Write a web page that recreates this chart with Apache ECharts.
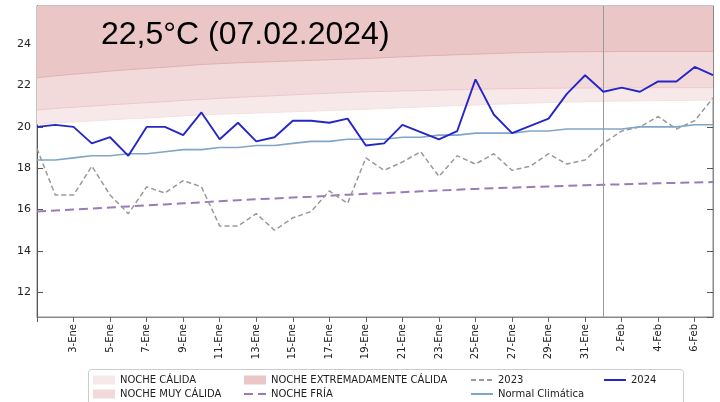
<!DOCTYPE html>
<html>
<head>
<meta charset="utf-8">
<script src="https://cdn.jsdelivr.net/npm/echarts@6/dist/echarts.min.js"></script>
<style>html,body{margin:0;padding:0;background:#fff;}#c{width:720px;height:402px;}</style>
</head>
<body>
<div id="c"></div>
<script>
const categories = ['1-Ene','2-Ene','3-Ene','4-Ene','5-Ene','6-Ene','7-Ene','8-Ene','9-Ene','10-Ene',
  '11-Ene','12-Ene','13-Ene','14-Ene','15-Ene','16-Ene','17-Ene','18-Ene','19-Ene','20-Ene',
  '21-Ene','22-Ene','23-Ene','24-Ene','25-Ene','26-Ene','27-Ene','28-Ene','29-Ene','30-Ene','31-Ene',
  '1-Feb','2-Feb','3-Feb','4-Feb','5-Feb','6-Feb','7-Feb'];
const tmin2024 = [20.0,20.1,20.0,19.2,19.5,18.6,20.0,20.0,19.6,20.7,19.4,20.2,19.3,19.5,20.3,20.3,20.2,20.4,19.1,19.2,
  20.1,19.75,19.4,19.8,22.3,20.6,19.7,20.05,20.4,21.6,22.5,21.7,21.9,21.7,22.2,22.2,22.9,22.5];
const tmin2023 = [18.95,16.7,16.7,18.1,16.7,15.8,17.1,16.8,17.4,17.1,15.2,15.2,15.8,15.0,15.6,15.9,16.9,16.3,18.5,17.9,
  18.3,18.8,17.6,18.6,18.2,18.7,17.9,18.1,18.7,18.2,18.4,19.2,19.8,20.0,20.5,19.9,20.3,21.4];
const normalClimatica = [18.4,18.4,18.5,18.6,18.6,18.7,18.7,18.8,18.9,18.9,19.0,19.0,19.1,19.1,19.2,19.3,19.3,19.4,19.4,19.4,
  19.5,19.5,19.6,19.6,19.7,19.7,19.7,19.8,19.8,19.9,19.9,19.9,19.9,20.0,20.0,20.0,20.1,20.1];
const nocheFria = [15.90,15.95,16.00,16.05,16.10,16.15,16.20,16.25,16.30,16.35,16.40,16.45,16.50,16.53,16.58,16.62,16.67,16.72,16.76,16.80,
  16.84,16.88,16.92,16.96,17.00,17.03,17.06,17.09,17.12,17.15,17.18,17.20,17.22,17.25,17.27,17.29,17.31,17.33];
const umbralCalida = [20.14,20.19,20.24,20.29,20.34,20.39,20.43,20.48,20.53,20.58,20.61,20.64,20.67,20.70,20.73,20.76,20.79,20.82,20.85,20.89,
  20.93,20.96,21.00,21.03,21.06,21.09,21.12,21.15,21.18,21.20,21.22,21.24,21.25,21.26,21.27,21.28,21.29,21.30];
const umbralMuyCalida = [20.82,20.89,20.95,21.01,21.07,21.12,21.17,21.22,21.28,21.33,21.38,21.43,21.47,21.51,21.55,21.59,21.63,21.66,21.70,21.72,
  21.74,21.76,21.78,21.80,21.82,21.84,21.85,21.86,21.87,21.88,21.88,21.89,21.89,21.89,21.90,21.90,21.90,21.90];
const umbralExtrema = [22.38,22.47,22.55,22.62,22.70,22.77,22.83,22.89,22.95,23.02,23.06,23.10,23.13,23.16,23.19,23.22,23.25,23.28,23.31,23.35,
  23.39,23.43,23.46,23.49,23.52,23.55,23.58,23.60,23.62,23.63,23.64,23.64,23.65,23.65,23.65,23.65,23.65,23.65];
const yTicks = [12,14,16,18,20,22,24];
const titleText = '22,5°C (07.02.2024)';
const markerDate = '1-Feb';

const chart = echarts.init(document.getElementById('c'), null, {renderer:'canvas'});
const FONT = 'DejaVu Sans';
const yMin = 10.8, yMax = 25.85;

function band(name, data, fill, edge){
  return {name, type:'line', data, symbol:'none', silent:true, color:fill,
    lineStyle:{color:edge, width:1}, areaStyle:{color:fill, opacity:1, origin:'end'}, z:1};
}
const legendBase = {orient:'vertical', padding:0, itemGap:2, itemWidth:22, itemHeight:9,
  textStyle:{fontFamily:FONT, fontSize:10, color:'#222', lineHeight:12}, selectedMode:false};
const noSym = {opacity:0};

const option = {
  animation:false,
  grid:{left:37, right:7, top:6, height:311, show:true, borderColor:'#888', borderWidth:1},
  xAxis:{type:'category', data:categories, boundaryGap:false,
    axisLine:{lineStyle:{color:'#888'}},
    axisTick:{interval:(i)=>i%2===0, length:5, lineStyle:{color:'#666'}},
    axisLabel:{interval:(i)=>i%2===0 && i>0, rotate:90, fontFamily:FONT, fontSize:10, color:'#222', margin:7},
    splitLine:{show:false}},
  yAxis:[{type:'value', min:yMin, max:yMax, minInterval:2, maxInterval:2,
    axisLine:{show:true, lineStyle:{color:'#555'}},
    axisTick:{show:true, inside:true, length:6, lineStyle:{color:'#555'}},
    axisLabel:{fontFamily:FONT, fontSize:11, color:'#222', margin:6, showMinLabel:false, showMaxLabel:false,
      formatter:(v)=> yTicks.includes(v) ? String(v) : ''},
    splitLine:{show:false}},
   {type:'value', min:yMin, max:yMax, minInterval:2, maxInterval:2, position:'right',
    axisLine:{show:true, lineStyle:{color:'#888'}},
    axisTick:{show:true, inside:true, length:6, lineStyle:{color:'#555'}},
    axisLabel:{show:false}, splitLine:{show:false}}],
  legend:[
    Object.assign({}, legendBase, {left:93, top:374, data:[{name:'NOCHE CÁLIDA', icon:'rect'},{name:'NOCHE MUY CÁLIDA', icon:'rect'}]}),
    Object.assign({}, legendBase, {left:243, top:374, data:[{name:'NOCHE EXTREMADAMENTE CÁLIDA', icon:'rect'},{name:'NOCHE FRÍA', itemStyle:noSym}]}),
    Object.assign({}, legendBase, {left:470, top:374, data:[{name:'2023', itemStyle:noSym},{name:'Normal Climática', itemStyle:noSym}]}),
    Object.assign({}, legendBase, {left:603, top:374, data:[{name:'2024', itemStyle:noSym}]})
  ],
  graphic:[
    {type:'rect', left:88, top:369, z:-1, shape:{width:595, height:45, r:3}, style:{fill:'#fff', stroke:'#ccc', lineWidth:1}},
    {type:'text', x:101, y:35, z:100, style:{text:titleText, font:'32px "Liberation Sans", Arial, sans-serif', fill:'#000', textVerticalAlign:'middle'}}
  ],
  series:[
    band('NOCHE CÁLIDA', umbralCalida, '#f7e9e9', '#f3e1e1'),
    band('NOCHE MUY CÁLIDA', umbralMuyCalida, '#f2dada', '#ecc9c9'),
    band('NOCHE EXTREMADAMENTE CÁLIDA', umbralExtrema, '#eac6c6', '#e2b0b0'),
    {name:'NOCHE FRÍA', type:'line', data:nocheFria, symbol:'none', color:'#9a7bb8',
      lineStyle:{color:'#9a7bb8', width:2, type:[9,5]}, z:3},
    {name:'2023', type:'line', data:tmin2023, symbol:'none', color:'#999',
      lineStyle:{color:'#999', width:1.5, type:[5,3]}, z:4},
    {name:'Normal Climática', type:'line', data:normalClimatica, symbol:'none', color:'#7fa6c9',
      lineStyle:{color:'#7fa6c9', width:1.6}, z:5},
    {name:'2024', type:'line', data:tmin2024, symbol:'none', color:'#2626c8',
      lineStyle:{color:'#2626c8', width:1.9}, z:6,
      markLine:{silent:true, symbol:['none','none'], label:{show:false},
        lineStyle:{color:'#999', width:1, type:'solid'}, data:[{xAxis:markerDate}]}}
  ]
};
chart.setOption(option);
</script>
</body>
</html>
